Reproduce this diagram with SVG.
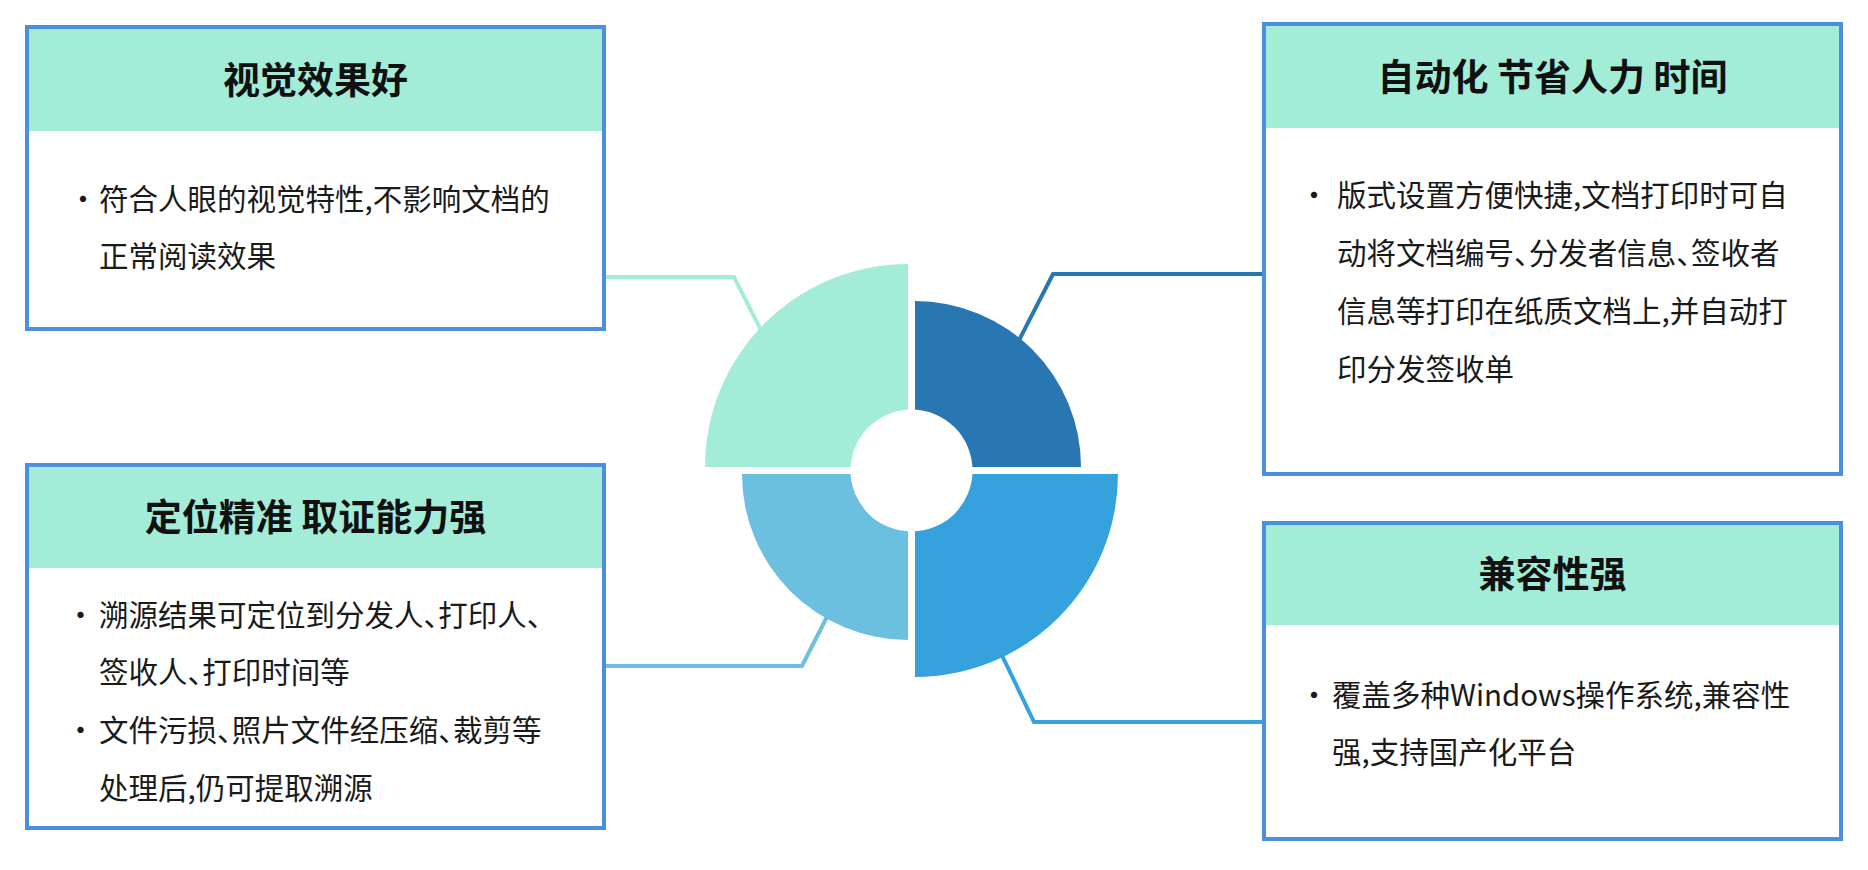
<svg xmlns="http://www.w3.org/2000/svg" width="1868" height="870" viewBox="0 0 1868 870">
<style>
.box{fill:#ffffff;stroke:#4d8fdf;stroke-width:4}
.hdr{fill:#a3ecd8}
.title{font-family:"Noto Sans CJK SC","Noto Sans",sans-serif;font-size:37px;font-weight:bold;fill:#111111;text-anchor:middle}
.body{font-family:"Noto Sans CJK SC","Noto Sans",sans-serif;font-size:29.5px;fill:#1a1a1a;font-feature-settings:"halt"}
.dot{font-family:"Noto Sans CJK SC","Noto Sans",sans-serif;font-size:29.5px;fill:#1a1a1a;text-anchor:middle}
.con{fill:none;stroke-width:4;stroke-linejoin:miter}
</style>
<rect width="1868" height="870" fill="#ffffff"/>
<g id="connectors">
<polyline class="con" stroke="#a3ecd8" points="606,277 734,277 770,348"/>
<polyline class="con" stroke="#2876b2" points="1262,274 1053,274 1014,350"/>
<polyline class="con" stroke="#6bbfdf" points="606,666 802,666 833,605"/>
<polyline class="con" stroke="#36a2dd" points="1262,722 1034,722 996,643"/>
</g>
<g id="donut">
<path id="seg-teal" d="M908,467 L705,467 A203,203 0 0 1 908,264 Z" fill="#a3ecd8"/>
<path id="seg-dark" d="M915,467 L915,301 A166,166 0 0 1 1081,467 Z" fill="#2876b2"/>
<path id="seg-bright" d="M915,474 L1118,474 A203,203 0 0 1 915,677 Z" fill="#36a2dd"/>
<path id="seg-mid" d="M908,474 L908,640 A166,166 0 0 1 742,474 Z" fill="#6bbfdf"/>
<circle cx="911.5" cy="470.5" r="61" fill="#ffffff"/>
</g>
<g id="node-visual">
<rect class="box" x="27" y="27" width="577" height="302"/>
<rect class="hdr" x="29" y="29" width="573" height="102"/>
<text class="title" x="315.5" y="93.5">视觉效果好</text>
<text class="dot" x="83" y="209.5">·</text>
<text class="body" x="99" y="209.5">符合人眼的视觉特性,不影响文档的</text>
<text class="body" x="99" y="267">正常阅读效果</text>
</g>
<g id="node-auto">
<rect class="box" x="1264" y="24" width="577" height="450"/>
<rect class="hdr" x="1266" y="26" width="573" height="102"/>
<text class="title" x="1552.5" y="90.5">自动化 节省人力 时间</text>
<text class="dot" x="1314" y="206">·</text>
<text class="body" x="1337" y="206">版式设置方便快捷,文档打印时可自</text>
<text class="body" x="1337" y="264">动将文档编号、分发者信息、签收者</text>
<text class="body" x="1337" y="322">信息等打印在纸质文档上,并自动打</text>
<text class="body" x="1337" y="379.5">印分发签收单</text>
</g>
<g id="node-locate">
<rect class="box" x="27" y="465" width="577" height="363"/>
<rect class="hdr" x="29" y="467" width="573" height="101"/>
<text class="title" x="315.5" y="530.5">定位精准 取证能力强</text>
<text class="dot" x="80.5" y="626">·</text>
<text class="body" x="99" y="626">溯源结果可定位到分发人、打印人、</text>
<text class="body" x="99" y="683">签收人、打印时间等</text>
<text class="dot" x="80.5" y="741">·</text>
<text class="body" x="99" y="741">文件污损、照片文件经压缩、裁剪等</text>
<text class="body" x="99" y="798.5">处理后,仍可提取溯源</text>
</g>
<g id="node-compat">
<rect class="box" x="1264" y="523" width="577" height="316"/>
<rect class="hdr" x="1266" y="525" width="573" height="100"/>
<text class="title" x="1552.5" y="588">兼容性强</text>
<text class="dot" x="1314" y="705.5">·</text>
<text class="body" x="1332" y="705.5">覆盖多种Windows操作系统,兼容性</text>
<text class="body" x="1332" y="763">强,支持国产化平台</text>
</g>
</svg>
